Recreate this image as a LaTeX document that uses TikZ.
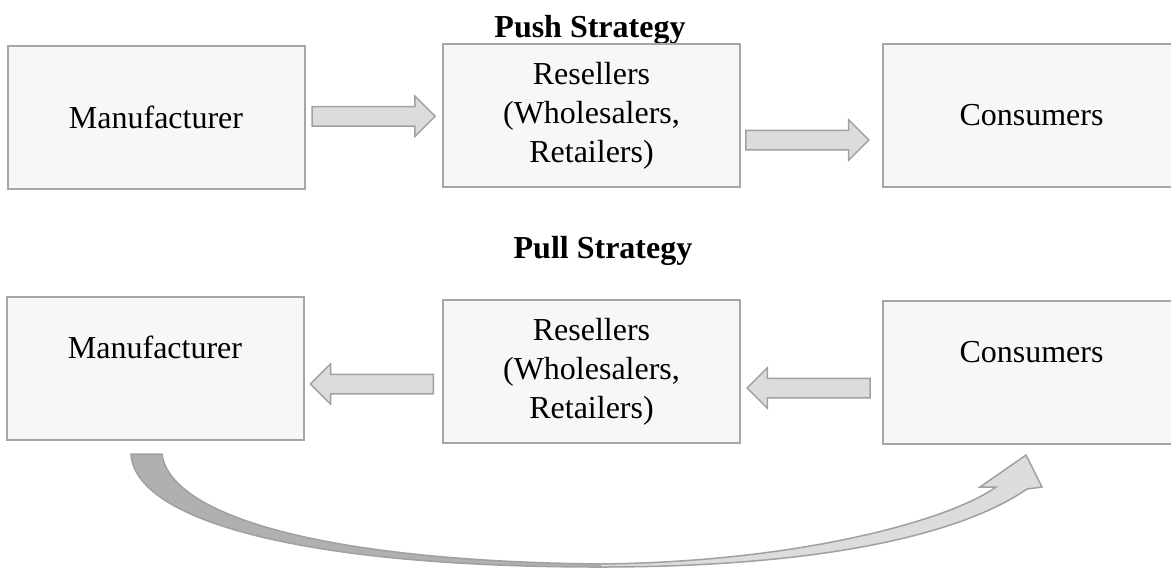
\documentclass[tikz,border=0pt]{standalone}
\usepackage{fontspec}
\setmainfont{Liberation Serif}
\usetikzlibrary{shapes.arrows,calc}
\definecolor{boxfill}{HTML}{F7F7F7}
\definecolor{boxline}{HTML}{A6A6A6}
\definecolor{arrfill}{HTML}{DCDCDC}
\definecolor{arrline}{HTML}{A0A0A0}
\definecolor{arcdark}{HTML}{B0B0B0}
\begin{document}
\begin{tikzpicture}[x=0.5pt,y=-0.5pt,
    every node/.style={font=\fontsize{16}{19.5}\selectfont},
    stage/.style={draw=boxline,fill=boxfill,line width=1pt,minimum width=148.5pt,
      minimum height=71.5pt,align=center,inner sep=0pt},
    lowstage/.style={stage,text height=30.75pt,text depth=40.75pt},
    blockarrow/.style={single arrow,draw=arrline,fill=arrfill,line width=0.75pt,
      minimum height=61.5pt,inner xsep=0pt,inner ysep=4.5pt,
      single arrow head extend=5.25pt,single arrow tip angle=90},
    backarrow/.style={blockarrow,shape border rotate=180},
    title/.style={font=\fontsize{16}{19.5}\selectfont\bfseries,anchor=base}]
    \useasboundingbox (0,0) rectangle (1171,570);
    \node [title] (pushhead) at (590,37) {Push Strategy};
    \node [stage] (maker1) at (156,117) {Manufacturer};
    \node [stage] (resell1) at (591.5,115.5) {Resellers\\(Wholesalers,\\Retailers)};
    \node [stage] (buyer1) at (1031.5,115.5) {Consumers};
    \node [blockarrow] (push1) at ($(maker1.east)!0.5!(resell1.west)+(-5,0)$) {};
    \node [blockarrow] (push2) at ($(resell1.east)!0.5!(buyer1.west)+(-9,24.5)$) {};
    \node [title] (pullhead) at (603,258) {Pull Strategy};
    \node [lowstage] (maker2) at (155,368.5) {Manufacturer};
    \node [stage] (resell2) at (591.5,371.5) {Resellers\\(Wholesalers,\\Retailers)};
    \node [lowstage] (buyer2) at (1031.5,372.5) {Consumers};
    \node [backarrow] (pull1) at ($(maker2.east)!0.5!(resell2.west)+(3.5,14)$) {};
    \node [backarrow] (pull2) at ($(resell2.east)!0.5!(buyer2.west)+(2,16)$) {};
    \draw [arrline,fill=arcdark,line width=0.75pt] (131,454) -- (162,454)
      .. controls (170,515) and (320,561) .. (600,564) -- (600,567)
      .. controls (300,567) and (135,520) .. (131,454) -- cycle;
    \draw [arrline,fill=arrfill,line width=0.75pt] (600,564)
      .. controls (800,562) and (950,520) .. (996,487) -- (980,487) -- (1026,455)
      -- (1042,487) -- (1027,489) .. controls (960,535) and (820,567) .. (600,567) -- cycle;
\end{tikzpicture}
\end{document}
